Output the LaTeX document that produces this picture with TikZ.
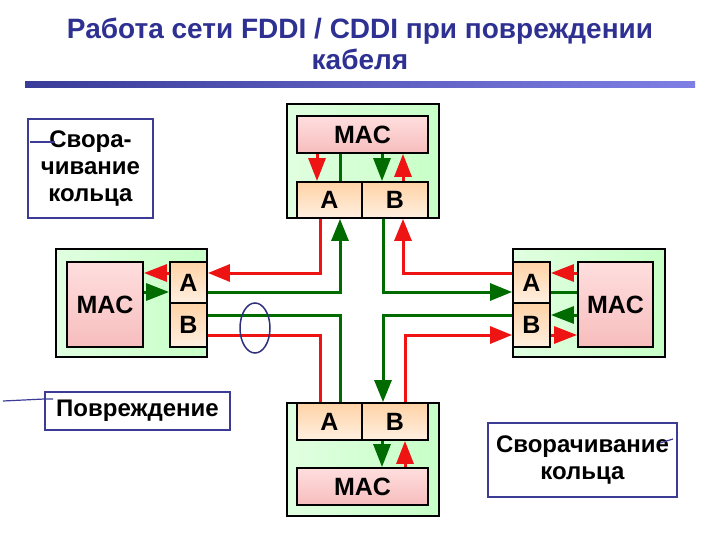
\documentclass[tikz,border=0pt]{standalone}
\usepackage{fontspec}
\setmainfont{Liberation Sans}
\usetikzlibrary{arrows.meta}
\definecolor{titleblue}{RGB}{46,49,146}
\definecolor{labblue}{RGB}{60,60,150}
\definecolor{ared}{RGB}{238,20,20}
\definecolor{agreen}{RGB}{0,108,0}
\tikzset{
  station/.style={draw=black, line width=1.8pt, left color=green!12, right color=green!22, inner sep=0pt},
  macbox/.style={draw=black, line width=1.8pt, top color=red!13, bottom color=red!30!black!5!pink!90, inner sep=0pt, font=\bfseries\fontsize{25}{28}\selectfont},
  portbox/.style={draw=black, line width=1.8pt, top color=orange!35, bottom color=orange!12, inner sep=0pt, font=\bfseries\fontsize{25}{28}\selectfont},
  rl/.style={draw=ared, line width=3pt},
  gl/.style={draw=agreen, line width=3pt},
  rtip/.style={-{Triangle[length=22pt,width=17pt]}},
  stip/.style={-{Triangle[length=23pt,width=17pt]}},
  labbox/.style={draw=labblue, line width=1.4pt, align=center, font=\bfseries\fontsize{24}{27}\selectfont, inner sep=0pt},
  labline/.style={draw=labblue, line width=1.2pt}
}
\begin{document}
\begin{tikzpicture}[x=1pt,y=-1pt]
\useasboundingbox (0,0) rectangle (720,540);
% title
\node[font=\bfseries\fontsize{28}{31}\selectfont, text=titleblue, align=center] (title) at (360,44) {Работа сети FDDI / CDDI при повреждении\\кабеля};
\shade[left color=titleblue!95, right color=blue!40!white!75!titleblue] (25,82) rectangle (695,88);

% top station
\node[station, minimum width=152pt, minimum height=114pt] (topS) at (363,161) {};
\node[macbox, minimum width=131pt, minimum height=37pt] (topM) at (362.5,134.5) {MAC};
\node[portbox, minimum width=65pt, minimum height=36pt] (topA) at (329.5,200) {A};
\node[portbox, minimum width=66pt, minimum height=36pt] (topB) at (395,200) {B};

% bottom station
\node[station, minimum width=152pt, minimum height=113pt] (botS) at (363,459.5) {};
\node[portbox, minimum width=65pt, minimum height=37pt] (botA) at (329.5,421.5) {A};
\node[portbox, minimum width=66pt, minimum height=37pt] (botB) at (395,421.5) {B};
\node[macbox, minimum width=131pt, minimum height=37pt] (botM) at (362.5,486.5) {MAC};

% left station
\node[station, minimum width=151pt, minimum height=108pt] (leftS) at (131.5,303) {};
\node[macbox, minimum width=76pt, minimum height=85pt] (leftM) at (105,304.5) {MAC};
\node[portbox, minimum width=37pt, minimum height=41pt] (leftA) at (188.5,282.5) {A};
\node[portbox, minimum width=37pt, minimum height=44pt] (leftB) at (188.5,325) {B};

% right station
\node[station, minimum width=152pt, minimum height=108pt] (rightS) at (589,303) {};
\node[macbox, minimum width=75pt, minimum height=85pt] (rightM) at (615.5,304.5) {MAC};
\node[portbox, minimum width=37pt, minimum height=41pt] (rightA) at (531.5,282.5) {A};
\node[portbox, minimum width=37pt, minimum height=44pt] (rightB) at (531.5,325) {B};

% internal top
\draw[rl,stip] (317,0 |- topM.south) -- (317,0 |- topA.north);
\draw[gl] (340,0 |- topA.north) -- (340,0 |- topM.south);
\draw[gl,stip] (382,0 |- topM.south) -- (382,0 |- topB.north);
\draw[rl,stip] (403,0 |- topB.north) -- (403,0 |- topM.south);
% internal left
\draw[rl,stip] (leftA.west |- 0,273) -- (leftM.east |- 0,273);
\draw[gl,stip] (leftM.east |- 0,292) -- (leftA.west |- 0,292);
% internal right
\draw[rl,stip] (rightM.west |- 0,273) -- (rightA.east |- 0,273);
\draw[gl] (rightA.east |- 0,292) -- (rightM.west |- 0,292);
\draw[gl,stip] (rightM.west |- 0,315) -- (rightB.east |- 0,315);
\draw[rl,stip] (rightB.east |- 0,335) -- (rightM.west |- 0,335);
% internal bottom
\draw[gl,stip] (382,0 |- botB.south) -- (382,0 |- botM.north);
\draw[rl,stip] (405,0 |- botM.north) -- (405,0 |- botB.south);

% ring connections
\draw[rl,rtip] (320,0 |- topA.south) |- (leftA.east |- 0,273);
\draw[gl,rtip] (leftA.east |- 0,292) -| (340,0 |- topA.south);
\draw[gl,rtip] (383,0 |- topB.south) |- (rightA.west |- 0,292);
\draw[rl,rtip] (rightA.west |- 0,273) -| (403,0 |- topB.south);
\draw[gl] (leftB.east |- 0,315) -| (340,0 |- botA.north);
\draw[rl] (leftB.east |- 0,335) -| (320,0 |- botA.north);
\draw[gl,rtip] (rightB.west |- 0,315) -| (383,0 |- botB.north);
\draw[rl,rtip] (405,0 |- botB.north) |- (rightB.west |- 0,335);

% damage mark
\draw[draw=labblue!80!black, line width=1.5pt] (255,328) ellipse [x radius=15, y radius=25];

% labels
\node[labbox, minimum width=125pt, minimum height=99pt] (lab1) at (90.5,168.5) {Свора-\\чивание\\кольца};
\coordinate (l1a) at (30,142);
\draw[labline] (l1a) -- (55,142);
\node[labbox, minimum width=185pt, minimum height=38pt] (lab2) at (137.5,411) {Повреждение};
\coordinate (l2a) at (3,401);
\draw[labline] (l2a) -- (lab2.north west |- 0,399) -- (53,399);
\node[labbox, minimum width=189pt, minimum height=74pt] (lab3) at (582.5,460) {Сворачивание\\кольца};
\coordinate (l3a) at (673,439);
\draw[labline] (660,443) -- (l3a);
\end{tikzpicture}
\end{document}
